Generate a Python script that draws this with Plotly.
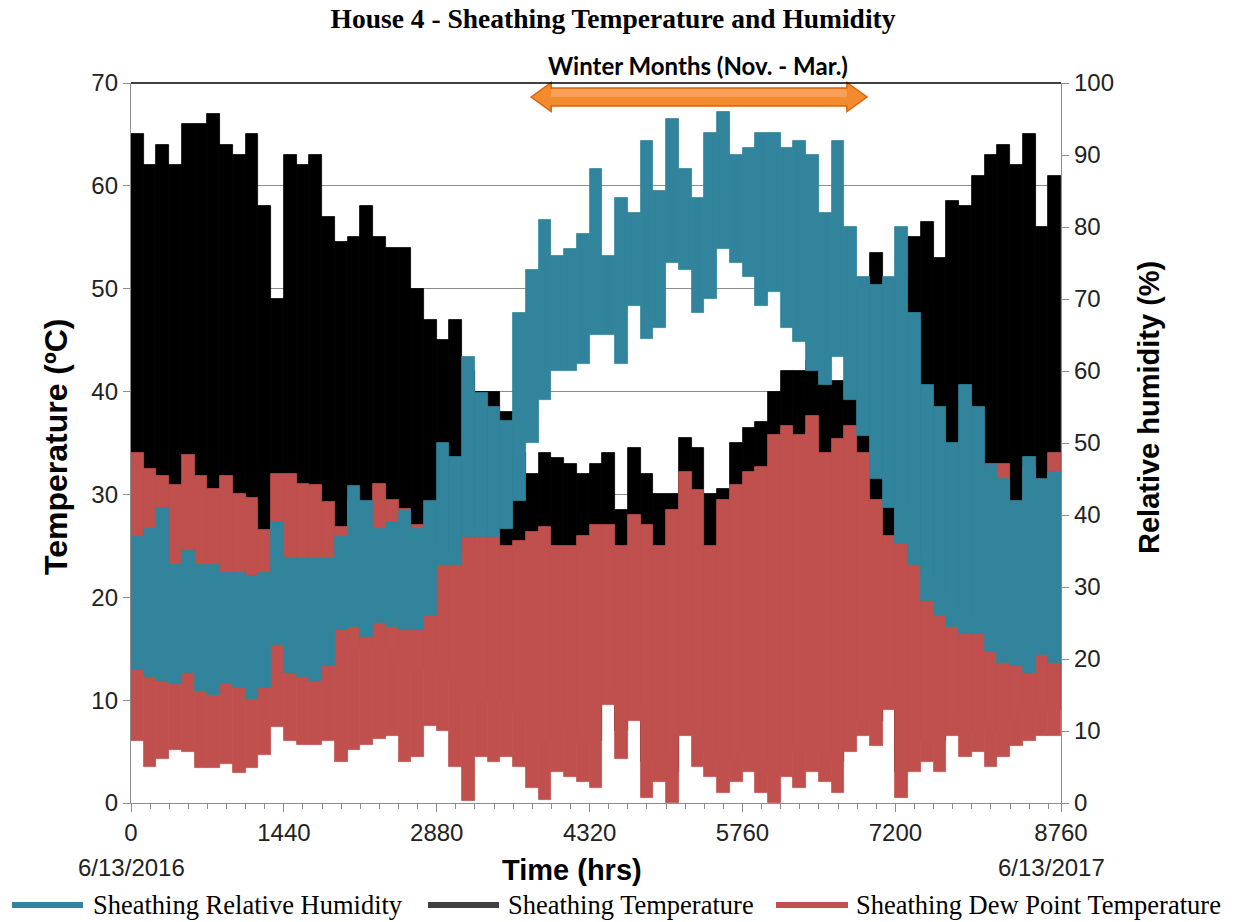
import plotly.graph_objects as go

# ---------------- data (120-hour bins) ----------------
BIN_HOURS = 120

# Sheathing temperature (deg C): bin maxima / minima
T_HI = [65, 62, 64, 62, 66, 66, 67, 64, 63, 65, 58, 49, 63, 62, 63, 57, 54.5, 55, 58,
        55, 54, 54, 50, 47, 45, 47, 42, 40, 40, 38, 34, 32, 34, 33.5, 33, 32, 33,
        34, 28.5, 34.5, 32, 30, 30, 35.5, 34.5, 30, 30.5, 35, 36.5, 37, 40, 42, 42, 43, 41,
        41, 39.5, 50, 53.5, 50, 51, 55, 56.5, 53, 58.5, 58, 61, 63, 64, 62, 65, 56, 61]
T_LO = [16, 15, 15, 16, 16, 15, 15, 15, 14, 14, 15, 17, 16, 15, 15, 16, 16, 15, 15,
        15, 15, 14, 13, 14, 13, 12, 10, 11, 10, 10, 9, 8, 6, 8, 7, 6, 6,
        11, 7, 10, 4, 5, 3, 9, 7, 5, 4, 5, 6, 4, 3, 6, 5, 6, 5,
        4, 8, 9, 8, 11, 3, 6, 7, 6, 9, 7, 8, 7, 8, 9, 9, 9, 9]

# Sheathing dew point temperature (deg C)
D_HI = [34, 32.5, 31.8, 30.9, 33.8, 31.8, 30.5, 31.8, 30, 29.7, 26.5, 32, 32, 31, 30.9, 29.3, 26.8, 29.5, 29,
        31, 29.5, 28.6, 27, 25, 24, 24.5, 26, 26.3, 26, 25, 25.5, 26.3, 26.8, 25, 25, 26, 27,
        27, 25, 28, 27, 25, 28.5, 32.2, 30.4, 25, 29.5, 30.9, 32.2, 32.7, 35.8, 36.7, 35.8, 37.6, 34,
        35.4, 36.7, 34, 29.5, 26, 29, 24, 21.8, 20.5, 19, 18.2, 16.4, 33, 33, 27, 32.7, 26, 34]
D_LO = [6, 3.5, 4.3, 5.2, 5, 3.4, 3.4, 3.8, 2.9, 3.4, 4.7, 7.4, 6, 5.6, 5.6, 6, 4, 5.2, 5.6,
        6.2, 6.5, 4, 4.5, 7.5, 7, 3.5, 0.2, 4.5, 4, 4.5, 3.5, 1.5, 0.3, 3, 2.5, 2, 1.5,
        9.5, 4.3, 8, 0.5, 2, 0, 6.5, 3.5, 2.5, 1, 2, 3, 1, 0, 2.5, 1.5, 3, 2,
        1, 5, 6.5, 5.5, 9, 0.5, 3, 4, 3, 6.5, 4.5, 5, 3.5, 4.5, 5.5, 6, 6.5, 6.5]

# Sheathing relative humidity (%)
RH_HI = [37, 38, 41, 33, 35, 33, 33, 32, 32, 31.5, 32, 39, 34, 34, 34, 34, 37, 44, 42,
         38, 39, 40.5, 38, 42, 50, 48, 62, 57, 55, 53, 68, 74, 81, 76, 77, 79, 88,
         76, 84, 82, 92, 85, 95, 88, 84, 93, 96, 90, 91, 93, 93, 91, 92, 90, 82,
         92, 80, 73, 72, 73, 80, 68, 58, 55, 50, 58, 55, 47, 45, 42, 48, 45, 46]
RH_LO = [18.5, 17.5, 17, 16.5, 18, 15.5, 15, 16.5, 16, 14.5, 16, 22, 18, 17.5, 17, 19, 24, 24.5, 23,
         25, 24.5, 24, 24, 26, 33, 33, 37, 37, 37, 38, 42, 50, 56, 60, 60, 61, 65,
         65, 61, 69, 64.5, 66, 75, 74, 68, 70, 77, 75, 73, 69, 71, 66, 64, 60, 58,
         62, 56, 51, 45, 41, 36, 33, 28, 26, 24.5, 23.5, 23.5, 21, 19.5, 19, 18, 20.5, 19.5]

X_TICKS = [0, 1440, 2880, 4320, 5760, 7200, 8760]
X_LABELS = ["0", "1440", "2880", "4320", "5760", "7200", "8760"]
START_DATE = "6/13/2016"
END_DATE = "6/13/2017"
WINTER = (3768, 6933)   # hours spanned by the "Winter Months" arrow

SERIES_NAMES = ["Sheathing Relative Humidity", "Sheathing Temperature",
                "Sheathing Dew Point Temperature"]

# ---------------- styling / layout helpers ----------------
C_RH = "#31849B"
C_T = "#000000"
C_T_LEG = "#404040"
C_D = "#C0504D"
AXIS_GRAY = "#8C8C8C"
SANS = "Liberation Sans, Arial, sans-serif"
SERIF = "Liberation Serif, Times New Roman, serif"

W, H = 1242, 922
ML, MR, MT, MB = 131, 181, 83, 119
PW, PH = W - ML - MR, H - MT - MB


def px_x(px):
    return (px - ML) / PW


def px_y(py):
    return (H - MB - py) / PH


hours = [BIN_HOURS * i + BIN_HOURS / 2 for i in range(len(T_HI))]


def band(hi, lo, color, yaxis):
    return go.Bar(
        x=hours, y=[h - l for h, l in zip(hi, lo)], base=lo, width=BIN_HOURS,
        marker=dict(color=color, line=dict(color=color, width=0.8)),
        showlegend=False, hoverinfo="skip", yaxis=yaxis,
    )


fig = go.Figure()
fig.add_trace(band(T_HI, T_LO, C_T, "y"))
fig.add_trace(band(D_HI, D_LO, C_D, "y"))
fig.add_trace(band(RH_HI, RH_LO, C_RH, "y2"))

# ---------------- legend (drawn manually to match the long line samples) ----------------
LEG_Y = 905
leg_items = [(SERIES_NAMES[0], C_RH, 12, 83, 92),
             (SERIES_NAMES[1], C_T_LEG, 428, 499, 507),
             (SERIES_NAMES[2], C_D, 776, 848, 855)]
for name, col, lx0, lx1, tx in leg_items:
    fig.add_shape(type="line", xref="paper", yref="paper",
                  x0=px_x(lx0), x1=px_x(lx1), y0=px_y(LEG_Y), y1=px_y(LEG_Y),
                  line=dict(color=col, width=6))
    fig.add_annotation(x=px_x(tx), y=px_y(LEG_Y), xref="paper", yref="paper",
                       text=name, showarrow=False, xanchor="left", yanchor="middle",
                       borderpad=0, font=dict(family=SERIF, size=26.5, color="black"))

# ---------------- winter arrow (double headed block arrow) ----------------
x0, x1 = WINTER
hl = 190
yc, sh, hh = px_y(97), 9.0 / PH, 14.5 / PH


def arrow_path(s, h, inset=0.0):
    a, b = x0 + inset, x1 - inset
    return (f"M{a},{yc} L{x0+hl},{yc+h} L{x0+hl},{yc+s} L{x1-hl},{yc+s} "
            f"L{x1-hl},{yc+h} L{b},{yc} L{x1-hl},{yc-h} L{x1-hl},{yc-s} "
            f"L{x0+hl},{yc-s} L{x0+hl},{yc-h} Z")


fig.add_shape(type="path", path=arrow_path(sh, hh), xref="x", yref="paper",
              fillcolor="#F38A2E", line=dict(color="#D9650B", width=1.5), layer="above")
# lighter upper half (gradient look)
hpath = (f"M{x0+hl},{yc+sh*0.85} L{x1-hl},{yc+sh*0.85} L{x1-hl},{yc} "
         f"L{x0+hl},{yc} Z")
fig.add_shape(type="path", path=hpath, xref="x", yref="paper",
              fillcolor="#F8A059", line=dict(width=0), layer="above")

# top border of the plot area
fig.add_shape(type="line", xref="paper", yref="paper", x0=0, x1=1, y0=1, y1=1,
              line=dict(color="black", width=1.3), layer="above")

fig.add_annotation(x=5341, y=px_y(65), xref="x", yref="paper", yanchor="middle",
                   text="<b>Winter Months (Nov. - Mar.)</b>", showarrow=False,
                   font=dict(family="Lato, Carlito, sans-serif", size=24, color="black"))
fig.add_annotation(x=0, y=px_y(868), xref="x", yref="paper", yanchor="middle",
                   text=START_DATE, showarrow=False,
                   font=dict(family=SANS, size=24, color="#222"))
fig.add_annotation(x=8666, y=px_y(868), xref="x", yref="paper", yanchor="middle",
                   text=END_DATE, showarrow=False,
                   font=dict(family=SANS, size=24, color="#222"))
fig.add_annotation(x=4154, y=px_y(870), xref="x", yref="paper", yanchor="middle",
                   text="<b>Time (hrs)</b>", showarrow=False,
                   font=dict(family=SANS, size=29, color="black"))
fig.add_annotation(x=px_x(56), y=px_y(447), xref="paper", yref="paper",
                   xanchor="center", yanchor="middle", textangle=-90,
                   text="<b>Temperature (ºC)</b>", showarrow=False,
                   font=dict(family=SANS, size=32, color="black"))
fig.add_annotation(x=px_x(1149), y=px_y(408), xref="paper", yref="paper",
                   xanchor="center", yanchor="middle", textangle=-90,
                   text="<b>Relative humidity (%)</b>", showarrow=False,
                   font=dict(family=SANS, size=29, color="black"))

fig.update_layout(
    width=W, height=H,
    margin=dict(l=ML, r=MR, t=MT, b=MB),
    paper_bgcolor="white", plot_bgcolor="white",
    barmode="overlay", bargap=0, showlegend=False,
    title=dict(text="<b>House 4 - Sheathing Temperature and Humidity</b>",
               x=0.4936, xanchor="center", y=1 - 18 / H, yanchor="middle",
               font=dict(family=SERIF, size=27.5, color="black")),
    xaxis=dict(range=[0, 8760], tickvals=X_TICKS, ticktext=X_LABELS,
               showline=True, linecolor=AXIS_GRAY, linewidth=1.3,
               ticks="outside", ticklen=8, tickcolor=AXIS_GRAY,
               minor=dict(dtick=180, tick0=0, ticks="outside", ticklen=5, tickcolor=AXIS_GRAY),
               showgrid=False, zeroline=False,
               tickfont=dict(family=SANS, size=24, color="#222")),
    yaxis=dict(range=[0, 70], dtick=10, showline=True, linecolor=AXIS_GRAY, linewidth=1.3,
               ticks="outside", ticklen=7, tickcolor=AXIS_GRAY,
               showgrid=True, gridcolor=AXIS_GRAY, gridwidth=1, zeroline=False,
               tickfont=dict(family=SANS, size=24, color="#222")),
    yaxis2=dict(range=[0, 100], dtick=10, overlaying="y", side="right",
                showline=True, linecolor=AXIS_GRAY, linewidth=1.3,
                ticks="outside", ticklen=7, tickcolor=AXIS_GRAY,
                showgrid=False, zeroline=False,
                tickfont=dict(family=SANS, size=24, color="#222")),
)

fig.write_html("out.html")
